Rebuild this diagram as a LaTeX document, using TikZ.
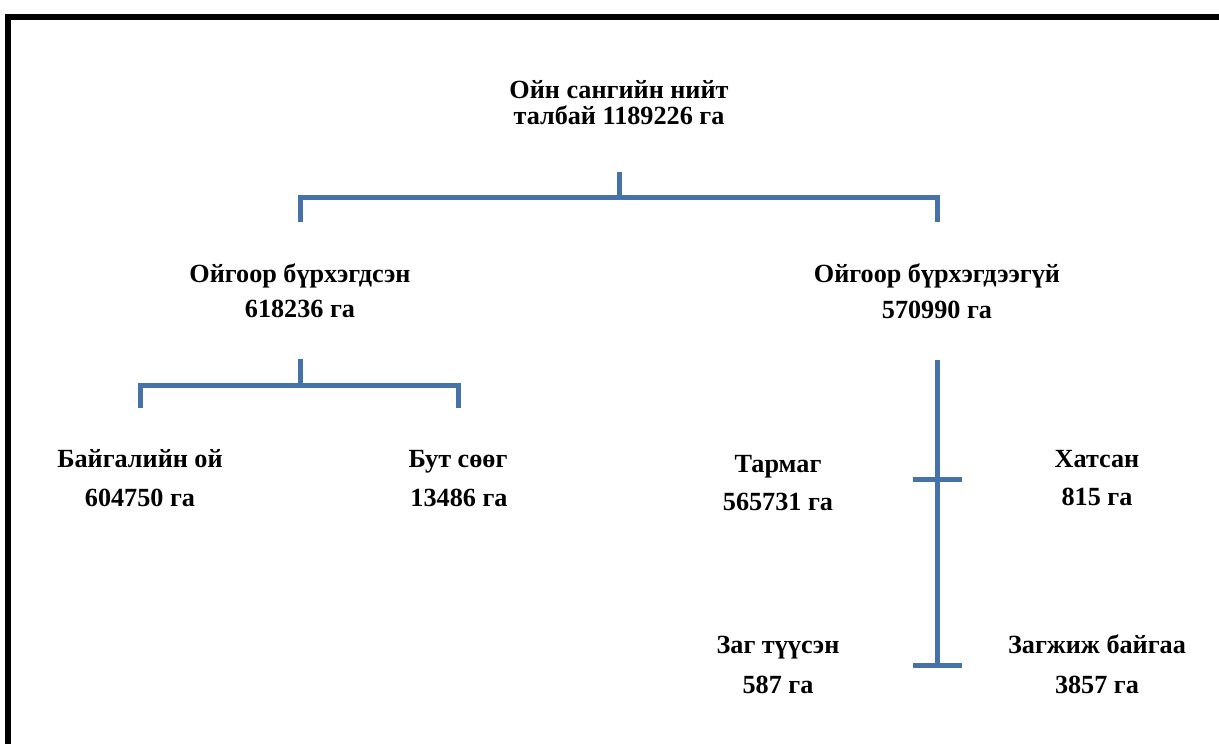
\documentclass[tikz,border=0pt]{standalone}
\usepackage{fontspec}
\setmainfont{Liberation Serif}
\definecolor{linkblue}{RGB}{69,114,168}
\tikzset{
  lbl/.style={anchor=base, inner sep=0pt, font=\bfseries\fontsize{26.2}{30}\selectfont},
  link/.style={draw=linkblue, line width=5pt},
}

\begin{document}
\begin{tikzpicture}[x=1pt,y=-1pt]
\useasboundingbox (0,0) rectangle (1219,744);
\clip (0,0) rectangle (1219,744);
\draw[line width=6pt] (8,760) -- (8,17) -- (1230,17);

% total area
\node[lbl] (total) at (619,98) {Ойн сангийн нийт};
\node[lbl] (totalha) at (619,124) {талбай 1189226 га};

% second level
\node[lbl] (covered) at (300,282) {Ойгоор бүрхэгдсэн};
\node[lbl] (coveredha) at (300,317) {618236 га};
\node[lbl] (uncovered) at (937,282) {Ойгоор бүрхэгдээгүй};
\node[lbl] (uncoveredha) at (937,318) {570990 га};

% covered by forest
\node[lbl] (natural) at (140,467) {Байгалийн ой};
\node[lbl] (naturalha) at (140,506) {604750 га};
\node[lbl] (shrub) at (458,467) {Бут сөөг};
\node[lbl] (shrubha) at (459,506) {13486 га};

% not covered by forest
\node[lbl] (sparse) at (778,472) {Тармаг};
\node[lbl] (sparseha) at (778,510) {565731 га};
\node[lbl] (dry) at (1097,467) {Хатсан};
\node[lbl] (dryha) at (1097,505) {815 га};
\node[lbl] (burnt) at (778,653) {Заг түүсэн};
\node[lbl] (burntha) at (778,693) {587 га};
\node[lbl] (dying) at (1097,653) {Загжиж байгаа};
\node[lbl] (dyingha) at (1097,693) {3857 га};

% brackets
\coordinate (totalbar) at (619,197);
\draw[link] ([yshift=-48pt]totalha.base) -- (totalbar);
\draw[link] ([yshift=60pt]covered.base) |- (totalbar) -| ([yshift=60pt]uncovered.base);

\coordinate (coveredbar) at (300,385);
\draw[link] ([yshift=-42pt]coveredha.base) -- (coveredbar);
\draw[link] ([yshift=59pt]natural.base) |- (coveredbar) -| ([yshift=59pt]shrub.base);

\coordinate (drytick) at (937,479);
\coordinate (deadtick) at (937,665);
\draw[link] ([yshift=-42pt]uncoveredha.base) -- (deadtick);
\draw[link] ([xshift=-24pt]drytick) -- ([xshift=25pt]drytick);
\draw[link] ([xshift=-24pt]deadtick) -- ([xshift=25pt]deadtick);
\end{tikzpicture}
\end{document}
